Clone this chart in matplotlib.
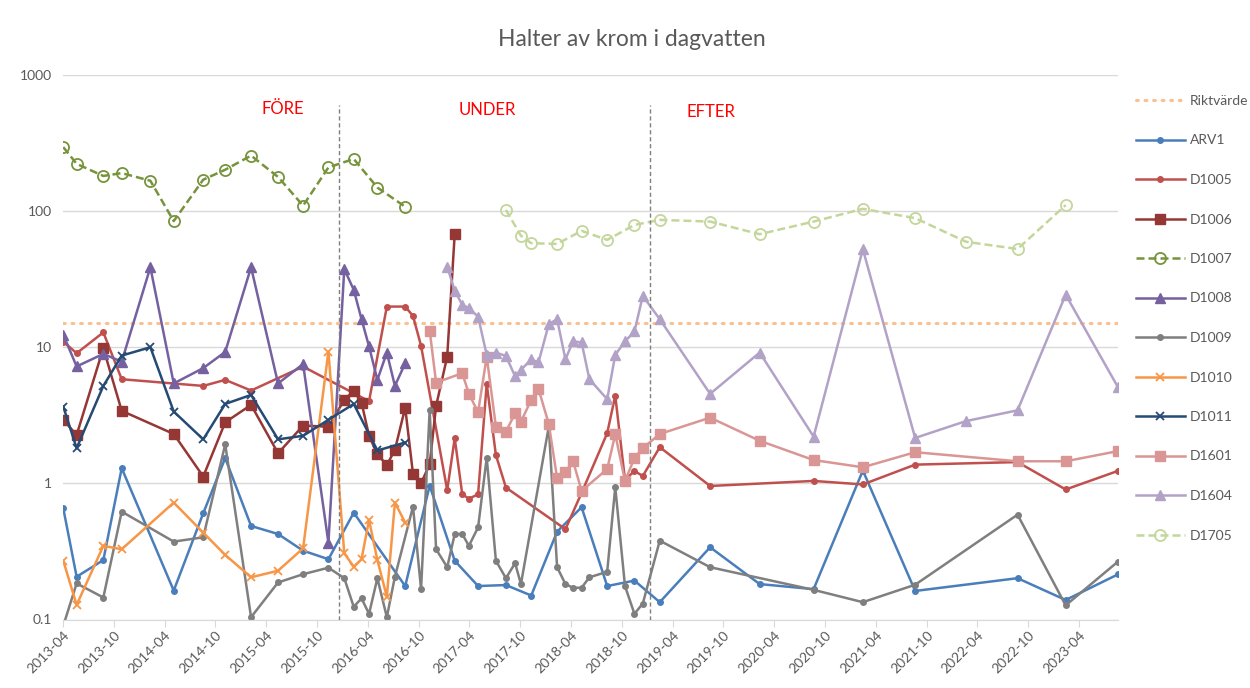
import numpy as np
import matplotlib
matplotlib.use("Agg")
import matplotlib.pyplot as plt
import matplotlib.dates as mdates
from matplotlib.lines import Line2D

plt.rcParams['font.family'] = ['Lato', 'DejaVu Sans']

title = "Halter av krom i dagvatten"
riktvarde = 15.0
period_labels = ["FÖRE", "UNDER", "EFTER"]
period_bounds = ["2015-12-19", "2019-01-11"]
x_start, x_end = "2013-04-01", "2023-08-18"
y_ticks = [0.1, 1, 10, 100, 1000]
y_tick_labels = ["0.1", "1", "10", "100", "1000"]

arv1_dates = ["2013-04-02", "2013-05-20", "2013-08-24", "2013-10-29", "2014-05-04", "2014-08-18",
              "2014-11-05", "2015-02-06", "2015-05-14", "2015-08-12", "2015-11-11", "2016-02-10",
              "2016-08-13", "2016-11-09", "2017-02-07", "2017-05-02", "2017-08-10", "2017-11-09",
              "2018-02-10", "2018-05-09", "2018-08-09", "2018-11-15", "2019-02-14", "2019-08-14",
              "2020-02-08", "2020-08-20", "2021-02-13", "2021-08-20", "2022-08-23", "2023-02-12",
              "2023-08-18"]
arv1_vals = [0.655, 0.206, 0.273, 1.29, 0.163, 0.602, 1.53, 0.486, 0.424, 0.320, 0.277, 0.608,
             0.176, 0.96, 0.27, 0.176, 0.179, 0.150, 0.441, 0.667, 0.176, 0.193, 0.134, 0.339,
             0.182, 0.167, 1.24, 0.162, 0.201, 0.139, 0.214]

d1005_dates = ["2013-04-02", "2013-05-20", "2013-08-24", "2013-10-29", "2014-08-18", "2014-11-05",
               "2015-02-06", "2015-08-12", "2016-04-05", "2016-06-08", "2016-08-13", "2016-09-10",
               "2016-10-09", "2017-01-11", "2017-02-07", "2017-03-06", "2017-03-30", "2017-05-02",
               "2017-06-02", "2017-07-05", "2017-08-10", "2018-03-12", "2018-05-09", "2018-08-09",
               "2018-09-07", "2018-10-12", "2018-11-15", "2018-12-15", "2019-02-14", "2019-08-14",
               "2020-08-20", "2021-02-13", "2021-08-20", "2022-08-23", "2023-02-12", "2023-08-18"]
d1005_vals = [10.96, 9.0, 12.8, 5.8, 5.18, 5.74, 4.79, 7.18, 4.0, 19.8, 19.8, 16.9, 10.2, 0.89,
              2.14, 0.83, 0.77, 0.83, 5.36, 1.61, 0.93, 0.46, 0.85, 2.33, 4.4, 1.06, 1.23, 1.13,
              1.84, 0.955, 1.04, 0.98, 1.37, 1.43, 0.90, 1.23]

d1006_dates = ["2013-04-02", "2013-05-20", "2013-08-24", "2013-10-29", "2014-05-04", "2014-08-18",
               "2014-11-05", "2015-02-06", "2015-05-14", "2015-08-12", "2015-11-11", "2016-01-07",
               "2016-02-10", "2016-03-09", "2016-04-05", "2016-05-05", "2016-06-08", "2016-07-07",
               "2016-08-13", "2016-09-10", "2016-10-09", "2016-11-09", "2016-12-02", "2017-01-11",
               "2017-02-07"]
d1006_vals = [2.92, 2.26, 9.8, 3.4, 2.30, 1.12, 2.80, 3.76, 1.66, 2.65, 2.60, 4.09, 4.76, 3.91,
              2.23, 1.63, 1.36, 1.76, 3.59, 1.17, 1.0, 1.38, 3.69, 8.5, 67.6]

d1007_dates = ["2013-04-02", "2013-05-20", "2013-08-24", "2013-10-29", "2014-02-09", "2014-05-04",
               "2014-08-18", "2014-11-05", "2015-02-06", "2015-05-14", "2015-08-12", "2015-11-11",
               "2016-02-10", "2016-05-05", "2016-08-13"]
d1007_vals = [293, 221, 180, 189, 166, 84, 169, 200, 254, 177, 109, 208, 240, 148, 107]

d1008_dates = ["2013-04-02", "2013-05-20", "2013-08-24", "2013-10-29", "2014-02-09", "2014-05-04",
               "2014-08-18", "2014-11-05", "2015-02-06", "2015-05-14", "2015-08-12", "2015-11-11",
               "2016-01-07", "2016-02-10", "2016-03-09", "2016-04-05", "2016-05-05", "2016-06-08",
               "2016-07-07", "2016-08-13"]
d1008_vals = [12.3, 7.2, 8.9, 7.8, 38.5, 5.4, 7.0, 9.2, 38.5, 5.4, 7.5, 0.366, 37.3, 26.3, 16.0,
              10.1, 5.74, 9.1, 5.18, 7.6]

d1009_dates = ["2013-04-02", "2013-05-20", "2013-08-24", "2013-10-29", "2014-05-04", "2014-08-18",
               "2014-11-05", "2015-02-06", "2015-05-14", "2015-08-12", "2015-11-11", "2016-01-07",
               "2016-02-10", "2016-03-09", "2016-04-05", "2016-05-05", "2016-06-08", "2016-07-07",
               "2016-09-10", "2016-10-09", "2016-11-09", "2016-12-02", "2017-01-11", "2017-02-07",
               "2017-03-06", "2017-03-30", "2017-05-02", "2017-06-02", "2017-07-05", "2017-08-10",
               "2017-09-12", "2017-10-03", "2018-01-11", "2018-02-10", "2018-03-12", "2018-04-08",
               "2018-05-09", "2018-06-06", "2018-08-09", "2018-09-07", "2018-10-12", "2018-11-15",
               "2018-12-15", "2019-02-14", "2019-08-14", "2020-08-20", "2021-02-13", "2021-08-20",
               "2022-08-23", "2023-02-12", "2023-08-18"]
d1009_vals = [0.09, 0.184, 0.145, 0.619, 0.373, 0.401, 1.93, 0.104, 0.187, 0.215, 0.240, 0.201,
              0.124, 0.143, 0.110, 0.201, 0.104, 0.206, 0.673, 0.167, 3.45, 0.328, 0.242, 0.424,
              0.424, 0.347, 0.475, 1.54, 0.270, 0.201, 0.259, 0.182, 2.60, 0.242, 0.182, 0.171,
              0.171, 0.204, 0.224, 0.935, 0.176, 0.110, 0.131, 0.379, 0.242, 0.165, 0.134, 0.180,
              0.588, 0.127, 0.265]

d1010_dates = ["2013-04-02", "2013-05-20", "2013-08-24", "2013-10-29", "2014-05-04", "2014-08-18",
               "2014-11-05", "2015-02-06", "2015-05-14", "2015-08-12", "2015-11-11", "2016-01-07",
               "2016-02-10", "2016-03-09", "2016-04-05", "2016-05-05", "2016-06-08", "2016-07-07",
               "2016-08-13"]
d1010_vals = [0.270, 0.128, 0.347, 0.328, 0.721, 0.434, 0.298, 0.204, 0.228, 0.333, 9.25, 0.306,
              0.244, 0.277, 0.538, 0.273, 0.147, 0.721, 0.514]

d1011_dates = ["2013-04-02", "2013-05-20", "2013-08-24", "2013-10-29", "2014-02-09", "2014-05-04",
               "2014-08-18", "2014-11-05", "2015-02-06", "2015-05-14", "2015-08-12", "2015-11-11",
               "2016-02-10", "2016-05-05", "2016-08-13"]
d1011_vals = [3.65, 1.81, 5.18, 8.65, 9.96, 3.36, 2.10, 3.82, 4.45, 2.10, 2.23, 2.92, 3.82, 1.74,
              1.99]

d1601_dates = ["2016-11-09", "2016-12-02", "2017-03-06", "2017-03-30", "2017-05-02", "2017-06-02",
               "2017-07-05", "2017-08-10", "2017-09-12", "2017-10-03", "2017-11-09", "2017-12-05",
               "2018-01-11", "2018-02-10", "2018-03-12", "2018-04-08", "2018-05-09", "2018-08-09",
               "2018-09-07", "2018-10-12", "2018-11-15", "2018-12-15", "2019-02-14", "2019-08-14",
               "2020-02-08", "2020-08-20", "2021-02-13", "2021-08-20", "2022-08-23", "2023-02-12",
               "2023-08-18"]
d1601_vals = [13.2, 5.48, 6.42, 4.53, 3.32, 8.5, 2.60, 2.39, 3.26, 2.83, 4.09, 4.93, 2.73, 1.09,
              1.20, 1.46, 0.88, 1.27, 2.29, 1.04, 1.53, 1.81, 2.30, 3.03, 2.05, 1.48, 1.31, 1.69,
              1.45, 1.45, 1.72]

d1604_dates = ["2017-01-11", "2017-02-07", "2017-03-06", "2017-03-30", "2017-05-02", "2017-06-02",
               "2017-07-05", "2017-08-10", "2017-09-12", "2017-10-03", "2017-11-09", "2017-12-05",
               "2018-01-11", "2018-02-10", "2018-03-12", "2018-04-08", "2018-05-09", "2018-06-06",
               "2018-08-09", "2018-09-07", "2018-10-12", "2018-11-15", "2018-12-15", "2019-02-14",
               "2019-08-14", "2020-02-08", "2020-08-20", "2021-02-13", "2021-08-20", "2022-02-19",
               "2022-08-23", "2023-02-12", "2023-08-18"]
d1604_vals = [38.9, 25.9, 20.4, 19.3, 16.7, 8.75, 9.1, 8.6, 6.1, 6.8, 8.1, 7.7, 14.7, 16.0, 8.1,
              11.0, 10.8, 5.8, 4.14, 8.75, 11.0, 13.0, 23.7, 16.0, 4.53, 9.1, 2.2, 52.2, 2.15,
              2.86, 3.43, 24.2, 5.11]

d1705_dates = ["2017-08-10", "2017-10-03", "2017-11-09", "2018-02-10", "2018-05-09", "2018-08-09",
               "2018-11-15", "2019-02-14", "2019-08-14", "2020-02-08", "2020-08-20", "2021-02-13",
               "2021-08-20", "2022-02-19", "2022-08-23", "2023-02-12"]
d1705_vals = [101.5, 65.5, 57.8, 57.1, 71.2, 61.1, 78.7, 85.7, 83.3, 67.3, 83.3, 103.3, 88.3,
              59.2, 52.4, 110]

series_names = ["ARV1", "D1005", "D1006", "D1007", "D1008", "D1009", "D1010", "D1011",
                "D1601", "D1604", "D1705"]
series_dates = [arv1_dates, d1005_dates, d1006_dates, d1007_dates, d1008_dates, d1009_dates,
                d1010_dates, d1011_dates, d1601_dates, d1604_dates, d1705_dates]
series_vals = [arv1_vals, d1005_vals, d1006_vals, d1007_vals, d1008_vals, d1009_vals,
               d1010_vals, d1011_vals, d1601_vals, d1604_vals, d1705_vals]

styles = {
    "ARV1": dict(color="#4A7EBB", marker="o", ms=4, ls="-"),
    "D1005": dict(color="#C0504D", marker="o", ms=4, ls="-"),
    "D1006": dict(color="#953735", marker="s", ms=7, ls="-"),
    "D1007": dict(color="#77933C", marker="o", ms=8, ls=(0, (3.2, 1.6)), mfc="none", mew=1.3),
    "D1008": dict(color="#7560A0", marker="^", ms=7, ls="-"),
    "D1009": dict(color="#7F7F7F", marker="o", ms=4, ls="-"),
    "D1010": dict(color="#F79646", marker="x", ms=6, ls="-", mew=1.3),
    "D1011": dict(color="#254A74", marker="x", ms=6, ls="-", mew=1.3),
    "D1601": dict(color="#D99694", marker="s", ms=7, ls="-"),
    "D1604": dict(color="#B3A2C7", marker="^", ms=7, ls="-"),
    "D1705": dict(color="#C3D69B", marker="o", ms=8, ls=(0, (3.2, 1.6)), mfc="none", mew=1.3),
}

fig = plt.figure(figsize=(12.5, 6.88), dpi=100)
ax = fig.add_axes([63 / 1250, 1 - 619.5 / 688, (1117.7 - 63) / 1250, (619.5 - 74.5) / 688])
ax.set_yscale("log")
ax.set_ylim(0.1, 1000)
xs = np.datetime64(x_start)
xe = np.datetime64(x_end)
ax.set_xlim(xs, xe)

# grid
for yv in y_ticks:
    ax.axhline(yv, color="#D9D9D9", lw=1.0, zorder=0)

# Riktvärde
rikt_line, = ax.plot([xs, xe], [riktvarde, riktvarde], color="#FAC090", lw=2.2,
                     ls=(0, (0.6, 2.2)), dash_capstyle="round", zorder=1, label="Riktvärde")

handles = [rikt_line]
for name, d, v in zip(series_names, series_dates, series_vals):
    st = styles[name]
    ln, = ax.plot(np.array(d, dtype="datetime64[D]"), v, color=st["color"], lw=1.8,
                  ls=st["ls"], marker=st["marker"], ms=st["ms"],
                  mfc=st.get("mfc", st["color"]), mec=st["color"], mew=st.get("mew", 1.0),
                  label=name, zorder=2)
    handles.append(ln)

# period boundaries
for b in period_bounds:
    ax.plot([np.datetime64(b), np.datetime64(b)], [0.1, 600], color="#7F7F7F", lw=1.0,
            ls=(0, (3, 2)), zorder=3)

# period labels
for lab, xf, yf in zip(period_labels, [0.2086, 0.402, 0.614], [0.937, 0.935, 0.932]):
    ax.text(xf, yf, lab, transform=ax.transAxes, color="#FF0000", fontsize=12,
            ha="center", va="center")

# axes styling
for s in ["left", "right", "top"]:
    ax.spines[s].set_visible(False)
ax.spines["bottom"].set_color("#D9D9D9")
ax.set_yticks(y_ticks)
ax.set_yticklabels(y_tick_labels)
ax.yaxis.set_minor_locator(matplotlib.ticker.NullLocator())
ax.tick_params(axis="y", length=0, labelsize=10, labelcolor="#595959", pad=8)

tick_dates = np.arange(np.datetime64("2013-04"), np.datetime64("2023-05"), 6).astype("datetime64[D]")
ax.set_xticks(tick_dates)
ax.set_xticklabels([str(t)[:7] for t in tick_dates.astype("datetime64[M]")])
ax.tick_params(axis="x", length=5, color="#D9D9D9", labelsize=10, labelcolor="#595959", pad=2)
for lbl in ax.get_xticklabels():
    lbl.set_rotation(45)
    lbl.set_ha("right")
    lbl.set_va("top")
    lbl.set_rotation_mode("anchor")

fig.text(632 / 1250, 1 - 40 / 688, title, ha="center", va="center", fontsize=16.5,
         color="#595959")

leg = fig.legend(handles=handles, loc="upper left", bbox_to_anchor=(1136 / 1250, 1 - 95 / 688),
                 frameon=False, fontsize=10, labelspacing=1.98, handlelength=3.5,
                 handletextpad=0.4, borderpad=0, borderaxespad=0)
for t in leg.get_texts():
    t.set_color("#595959")

fig.savefig("out.png", dpi=100)
